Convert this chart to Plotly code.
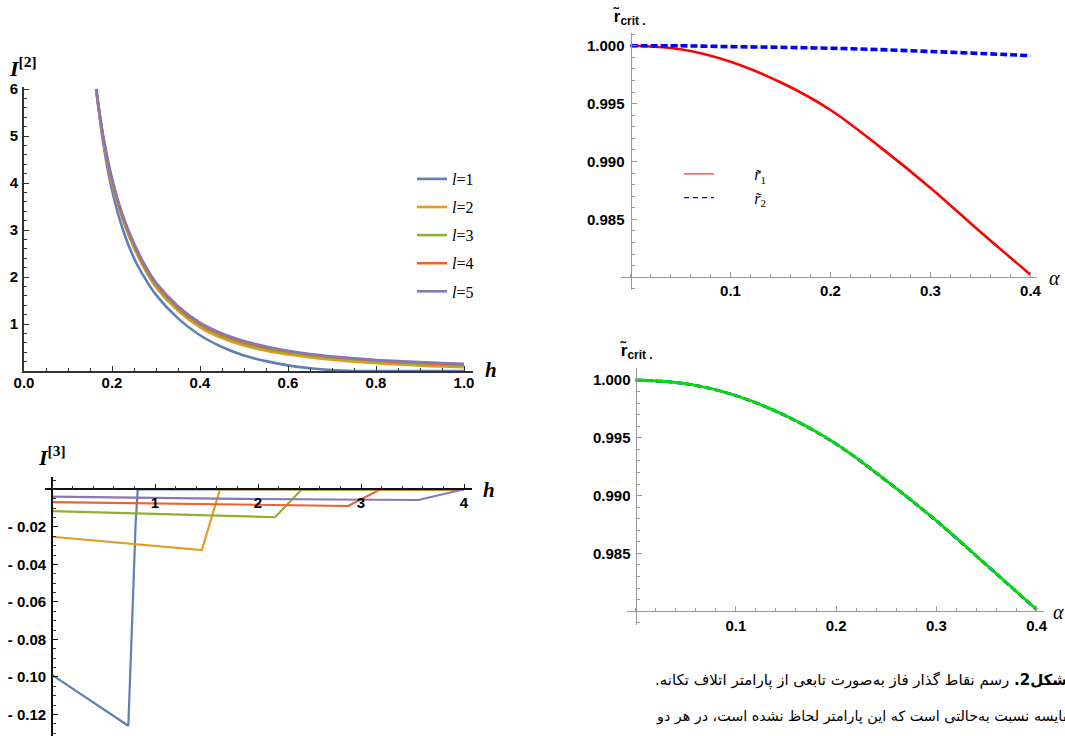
import plotly.graph_objects as go

W, H = 1065, 736

# ---------------- data ----------------
# Panel A : I^[2] versus h
h_a = [0.164, 0.18, 0.2, 0.225, 0.25, 0.275, 0.3, 0.35, 0.4, 0.45, 0.5,
       0.55, 0.6, 0.65, 0.7, 0.75, 0.8, 0.85, 0.9, 0.95, 1.0]
i2_l1 = [6.0, 4.85, 3.85, 3.0, 2.4, 1.97, 1.62, 1.12, 0.76, 0.51, 0.33,
         0.21, 0.12, 0.06, 0.02, 0.0, 0.0, 0.0, 0.0, 0.0, 0.0]
i2_l2 = [6.0, 4.93, 4.0, 3.2, 2.62, 2.15, 1.78, 1.28, 0.93, 0.70, 0.54,
         0.43, 0.35, 0.29, 0.24, 0.20, 0.165, 0.14, 0.115, 0.095, 0.08]
i2_l3 = [6.0, 4.96, 4.04, 3.24, 2.66, 2.19, 1.82, 1.32, 0.97, 0.74, 0.58,
         0.47, 0.39, 0.33, 0.28, 0.24, 0.205, 0.175, 0.15, 0.13, 0.115]
i2_l4 = [6.0, 4.98, 4.07, 3.27, 2.69, 2.22, 1.85, 1.35, 1.00, 0.77, 0.61,
         0.50, 0.42, 0.35, 0.30, 0.26, 0.225, 0.195, 0.17, 0.15, 0.135]
i2_l5 = [6.0, 5.0, 4.1, 3.3, 2.72, 2.25, 1.88, 1.38, 1.03, 0.80, 0.64,
         0.52, 0.43, 0.36, 0.31, 0.27, 0.235, 0.21, 0.19, 0.17, 0.155]
series_names = ["<i>l</i>=1", "<i>l</i>=2", "<i>l</i>=3", "<i>l</i>=4", "<i>l</i>=5"]
series_colors = ["#5E81B5", "#E19C24", "#8FB032", "#EB6235", "#8778B3"]

# Panel B : I^[3] versus h
h_b_l1 = [0.0, 0.30, 0.53, 0.741, 0.789, 0.812, 0.832, 4.0]
i3_l1 = [-0.0989, -0.1100, -0.1185, -0.126, -0.0536, -0.018, 0.0, 0.0]
h_b_l2 = [0.0, 0.98, 1.455, 1.631, 4.0]
i3_l2 = [-0.0252, -0.0300, -0.0323, 0.0, 0.0]
h_b_l3 = [0.0, 1.0, 2.165, 2.424, 4.0]
i3_l3 = [-0.0115, -0.0132, -0.0148, 0.0, 0.0]
h_b_l4 = [0.0, 1.5, 2.877, 3.184, 4.0]
i3_l4 = [-0.0067, -0.0077, -0.0088, 0.0, 0.0]
h_b_l5 = [0.0, 1.8, 3.557, 3.99]
i3_l5 = [-0.0038, -0.0050, -0.0056, 0.0]

# Panel C : r_crit versus alpha
alpha = [0.0, 0.05, 0.1, 0.15, 0.2, 0.25, 0.3, 0.35, 0.4]
r1_c = [1.0, 0.99969, 0.99862, 0.99684, 0.99445, 0.99122, 0.98772, 0.98392, 0.98022]
r2_c = [1.0, 0.99999, 0.99992, 0.99986, 0.99978, 0.99966, 0.99950, 0.99933, 0.99914]

# Panel D : r_crit versus alpha (both curves coincide)
r_green_d = [1.0, 0.99968, 0.99866, 0.99690, 0.99448, 0.99130, 0.98782, 0.98400, 0.98015]
r_blue_d = [1.0, 0.99968, 0.99865, 0.99689, 0.99447, 0.99129, 0.98781, 0.98399, 0.98013]

caption_1 = "\u200f<b>شکل2.</b> رسم نقاط گذار فاز به\u200cصورت تابعی از پارامتر اتلاف تکانه.\u200f"
caption_2 = "\u200fمقایسه نسبت به\u200cحالتی است که این پارامتر لحاظ نشده است، در هر دو\u200f"

# ---------------- geometry helpers ----------------
def xdom(r, ref_v, ref_px, s):
    return [max(0.0, (ref_px + (r[0] - ref_v) * s) / W),
            min(1.0, (ref_px + (r[1] - ref_v) * s) / W)]

def ydom(r, ref_v, ref_px, s):
    return [max(0.0, 1 - (ref_px - (r[0] - ref_v) * s) / H),
            min(1.0, 1 - (ref_px - (r[1] - ref_v) * s) / H)]

def frac(v, r, d):
    return d[0] + (v - r[0]) / (r[1] - r[0]) * (d[1] - d[0])

xrA, yrA = [0.0, 1.02], [0.0, 6.05]
xdA, ydA = xdom(xrA, 0, 24, 440), ydom(yrA, 0, 371, 47)
xrB, yrB = [-0.07, 4.08], [-0.13147, 0.0067]
xdB, ydB = xdom(xrB, 0, 52, 103), ydom(yrB, 0, 489.5, 1875)
xrC, yrC = [-0.0095, 0.4065], [0.9789, 1.0011]
xdC, ydC = xdom(xrC, 0, 630.5, 1000), ydom(yrC, 1.0, 45.7, 11580)
xrD, yrD = [-0.0085, 0.4075], [0.97881, 1.00104]
xdD, ydD = xdom(xrD, 0, 635.5, 1003), ydom(yrD, 1.0, 380, 11560)

fig = go.Figure()

# Panel A traces
for name, col, ys in zip(series_names, series_colors, [i2_l1, i2_l2, i2_l3, i2_l4, i2_l5]):
    fig.add_trace(go.Scatter(x=h_a, y=ys, mode="lines", name=name, line=dict(color=col, width=2.6, shape="spline", smoothing=0.8),
                             xaxis="x", yaxis="y", legend="legend", legendgroup=name))

# Panel B traces
for col, xs, ys in zip(series_colors, [h_b_l1, h_b_l2, h_b_l3, h_b_l4, h_b_l5],
                       [i3_l1, i3_l2, i3_l3, i3_l4, i3_l5]):
    fig.add_trace(go.Scatter(x=xs, y=ys, mode="lines", showlegend=False, line=dict(color=col, width=2.2),
                             xaxis="x2", yaxis="y2"))

# Panel C traces
fig.add_trace(go.Scatter(x=alpha, y=r1_c, mode="lines", showlegend=False,
                         line=dict(color="#FF0000", width=2.6, shape="spline"), xaxis="x3", yaxis="y3"))
fig.add_trace(go.Scatter(x=alpha, y=r2_c, mode="lines", showlegend=False,
                         line=dict(color="#0000FF", width=3.6, dash="7px,3px", shape="spline"), xaxis="x3", yaxis="y3"))
fig.add_trace(go.Scatter(x=[None], y=[None], mode="lines", name="\u2003\u2003\u2009<i>r\u0303</i><sub>1</sub>",
                         line=dict(color="#FF0000", width=1), xaxis="x3", yaxis="y3", legend="legend2"))
fig.add_trace(go.Scatter(x=[None], y=[None], mode="lines", name="\u2003\u2003\u2009<i>r\u0303</i><sub>2</sub>",
                         line=dict(color="#0000FF", width=1.3, dash="5px,4px"), xaxis="x3", yaxis="y3", legend="legend2"))

# Panel D traces
fig.add_trace(go.Scatter(x=alpha, y=r_blue_d, mode="lines", showlegend=False,
                         line=dict(color="#0000FF", width=3, dash="7px,3px", shape="spline"), xaxis="x4", yaxis="y4"))
fig.add_trace(go.Scatter(x=alpha, y=r_green_d, mode="lines", showlegend=False,
                         line=dict(color="#00E000", width=2.8, shape="spline"), xaxis="x4", yaxis="y4"))

tf = dict(family="Liberation Sans", size=15, color="black", weight="bold")

def axis(domain, rng, line_col, lw, **kw):
    d = dict(domain=domain, range=rng, showgrid=False, zeroline=False, showline=True,
             linecolor=line_col, linewidth=lw, ticks="inside", ticklen=5, tickwidth=1,
             tickcolor=line_col, tickfont=tf, fixedrange=True, ticklabelstandoff=4,
             automargin=False)
    d.update(kw)
    return d

dark = "#333333"
grey = "#999999"

layout_axes = dict(
    xaxis=axis(xdA, xrA, dark, 1.6, anchor="y", tickvals=[0, 0.2, 0.4, 0.6, 0.8, 1.0],
               ticktext=["0.0", "0.2", "0.4", "0.6", "0.8", "1.0"], ticklabelstandoff=-3,
               minor=dict(dtick=0.05, tick0=0, ticks="inside", ticklen=3, tickcolor=dark)),
    yaxis=axis(ydA, yrA, dark, 1.6, anchor="x", tickvals=[1, 2, 3, 4, 5, 6], ticklabelstandoff=1,
               minor=dict(dtick=0.2, tick0=0, ticks="inside", ticklen=3, tickcolor=dark)),
    xaxis2=axis(xdB, xrB, "#111111", 1.6, anchor="free", position=frac(0, yrB, ydB), side="bottom",
                tickvals=[1, 2, 3, 4], ticklabelstandoff=0,
                minor=dict(dtick=0.2, tick0=0, ticks="inside", ticklen=3, tickcolor=dark)),
    yaxis2=axis(ydB, yrB, "#111111", 1.6, anchor="free", position=frac(0, xrB, xdB), side="left",
                tickvals=[-0.02, -0.04, -0.06, -0.08, -0.10, -0.12],
                ticktext=["- 0.02", "- 0.04", "- 0.06", "- 0.08", "- 0.10", "- 0.12"],
                ticklabelstandoff=2,
                minor=dict(dtick=0.005, tick0=0, ticks="inside", ticklen=3, tickcolor=dark)),
    xaxis3=axis(xdC, xrC, grey, 1, anchor="free", position=frac(0.98, yrC, ydC), side="bottom",
                tickvals=[0.1, 0.2, 0.3, 0.4], ticklabelstandoff=0,
                minor=dict(dtick=0.02, tick0=0, ticks="inside", ticklen=3, tickcolor=grey)),
    yaxis3=axis(ydC, yrC, grey, 1, anchor="free", position=frac(0.0, xrC, xdC), side="left",
                tickvals=[0.985, 0.99, 0.995, 1.0], ticktext=["0.985", "0.990", "0.995", "1.000"],
                ticklabelstandoff=3,
                minor=dict(dtick=0.001, tick0=0.98, ticks="inside", ticklen=3, tickcolor=grey)),
    xaxis4=axis(xdD, xrD, grey, 1, anchor="free", position=frac(0.98, yrD, ydD), side="bottom",
                tickvals=[0.1, 0.2, 0.3, 0.4], ticklabelstandoff=1,
                minor=dict(dtick=0.02, tick0=0, ticks="inside", ticklen=3, tickcolor=grey)),
    yaxis4=axis(ydD, yrD, grey, 1, anchor="free", position=frac(0.0, xrD, xdD), side="left",
                tickvals=[0.985, 0.99, 0.995, 1.0], ticktext=["0.985", "0.990", "0.995", "1.000"],
                ticklabelstandoff=2,
                minor=dict(dtick=0.001, tick0=0.98, ticks="inside", ticklen=3, tickcolor=grey)),
)

serif = "Liberation Serif"

def ann(text, xpx, ypx, size, family=serif, xanchor="center", yanchor="middle"):
    return dict(text=text, x=xpx / W, y=1 - ypx / H, xref="paper", yref="paper", showarrow=False,
                xanchor=xanchor, yanchor=yanchor, font=dict(family=family, size=size, color="black"))

annotations = [
    ann("<b><i>I</i></b><sup><b>[2]</b></sup>", 23, 67, 22),
    ann("<b><i>h</i></b>", 491, 370, 21),
    ann("<b><i>I</i></b><sup><b>[3]</b></sup>", 52, 456, 22),
    ann("<b><i>h</i></b>", 489, 490, 21),
    ann("<b>r\u0303</b><sub><b>crit .</b></sub>", 629, 17, 17, family="Liberation Sans"),
    ann("<i>α</i>", 1054, 278, 20),
    ann("<b>r\u0303</b><sub><b>crit .</b></sub>", 636, 351, 17, family="Liberation Sans"),
    ann("<i>α</i>", 1058, 612, 20),
    ann(caption_1, 1069, 680, 15, family="DejaVu Sans", xanchor="right"),
    ann(caption_2, 654, 716, 14.3, family="DejaVu Sans", xanchor="left"),
]

fig.update_layout(
    width=W, height=H, autosize=False,
    margin=dict(l=0, r=0, t=0, b=0, pad=0, autoexpand=False),
    paper_bgcolor="white", plot_bgcolor="rgba(0,0,0,0)",
    annotations=annotations,
    legend=dict(x=412 / W, y=1 - 162 / H, xanchor="left", yanchor="top",
                font=dict(family=serif, size=16, color="black"), bgcolor="rgba(0,0,0,0)",
                tracegroupgap=4.3, traceorder="grouped"),
    legend2=dict(x=679 / W, y=1 - 157 / H, xanchor="left", yanchor="top",
                 font=dict(family=serif, size=16, color="black"), bgcolor="rgba(0,0,0,0)"),
    **layout_axes,
)

fig.write_html("out.html", config={"displayModeBar": False},
               post_script="document.body.style.margin='0';document.body.style.overflow='hidden';")
